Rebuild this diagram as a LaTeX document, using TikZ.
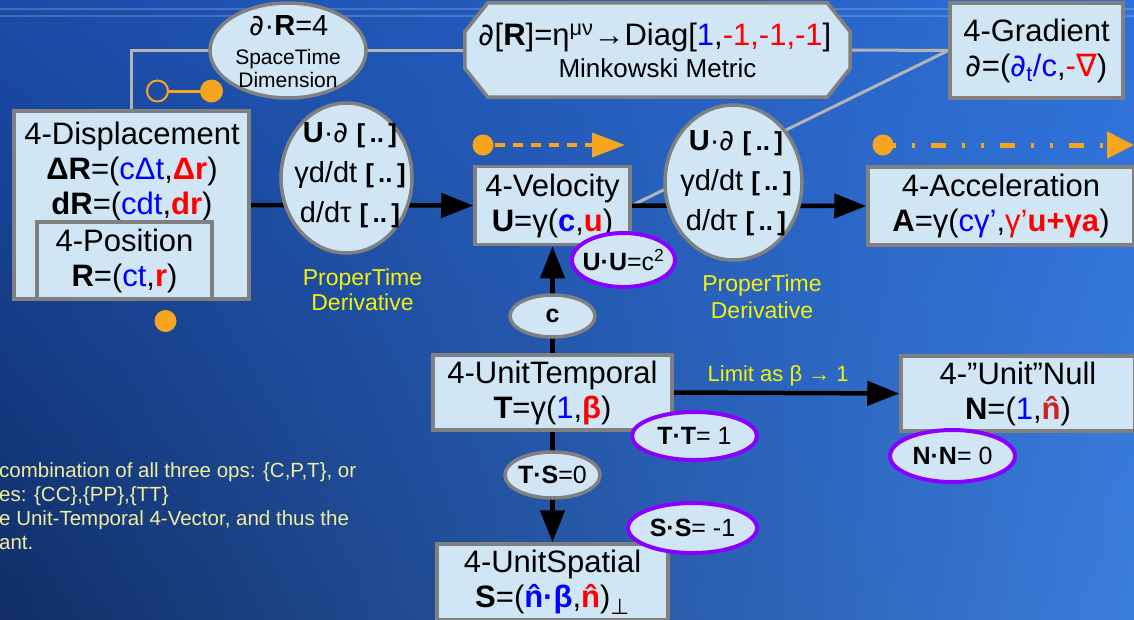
\documentclass[tikz,border=0pt]{standalone}
\usepackage{fontspec}
\setmainfont{Liberation Sans}
\newfontfamily\symfont{DejaVu Sans}
\usetikzlibrary{arrows.meta,shapes.geometric,shadings}
\definecolor{BGtl}{HTML}{1A4BA8}
\definecolor{BGtr}{HTML}{2E70D8}
\definecolor{BGbl}{HTML}{112E66}
\definecolor{BGbr}{HTML}{3B7DDC}
\definecolor{BoxFill}{HTML}{D0E6F5}
\definecolor{BoxLine}{HTML}{808080}
\definecolor{GreyWire}{HTML}{B4B4B4}
\definecolor{Purp}{HTML}{8A00FF}
\definecolor{Orng}{HTML}{F7A51F}
\definecolor{Yel}{HTML}{F2F20C}
\definecolor{PaleYel}{HTML}{F0EDA0}
\definecolor{VBlue}{HTML}{0000FF}
\definecolor{VRed}{HTML}{FF0000}
\definecolor{NRed}{HTML}{CC2222}
\newcommand{\fsmain}{\fontsize{31}{35}\selectfont}
\newcommand{\dpart}{{\symfont ∂}}
\newcommand{\dnabla}{{\symfont ∇}}
\newcommand{\dperp}{{\symfont ⊥}}
\newcommand{\nhat}{\ooalign{n\cr\hidewidth ˆ\hidewidth\cr}}
\newcommand{\opbr}{{\bfseries\fontsize{26}{26}\selectfont[\,..\,]}}
\pgfdeclarelayer{back}
\pgfdeclarelayer{wires}
\pgfsetlayers{back,wires,main}

\begin{document}
\begin{tikzpicture}[x=1pt,y=-1pt,
  vecbox/.style={draw=BoxLine,fill=BoxFill,line width=3.5pt,inner sep=0pt,align=center,font=\fsmain},
  opell/.style={ellipse,draw=BoxLine,fill=BoxFill,line width=3.5pt,inner sep=0pt},
  dotell/.style={ellipse,draw=Purp,fill=BoxFill,line width=4pt,inner sep=0pt},
  optext/.style={inner sep=0pt,align=center,font=\fontsize{29}{40}\selectfont},
  smalltext/.style={inner sep=0pt,font=\fontsize{25}{25}\selectfont},
  ylabel/.style={text=Yel,align=center,inner sep=0pt,font=\fontsize{23}{25}\selectfont},
  wire/.style={line width=4.5pt,black},
  bigtip/.style={-{Triangle[length=32pt,width=24pt]}},
  greywire/.style={GreyWire,line width=3pt},
]
\path[use as bounding box] (0,0) rectangle (1134,619);
\clip (0,0) rectangle (1134,619);
\begin{pgfonlayer}{back}
\shade[upper left=BGtl,upper right=BGtr,lower left=BGbl,lower right=BGbr] (0,0) rectangle (1134,619);
\draw[white,opacity=.18,line width=1.5pt] (0,9) -- (1134,9);
\draw[white,opacity=.18,line width=1.5pt] (0,16) -- (1134,16);
\end{pgfonlayer}

% top row
\node[opell,minimum width=156pt,minimum height=95pt] (dimE) at (288,50.5) {};
\node[inner sep=0pt,font=\fontsize{29}{29}\selectfont] (dimT1) at (289,26) {\dpart·\textbf{R}=4};
\node[inner sep=0pt,align=center,font=\fontsize{21}{23}\selectfont] (dimT2) at (288,68.5) {SpaceTime\\Dimension};

\node[inner sep=0pt,minimum width=385pt,minimum height=94pt] (mink) at (657.5,50) {};
\filldraw[draw=BoxLine,fill=BoxFill,line width=3.5pt]
  ([xshift=23pt]mink.north west) -- ([xshift=-23pt]mink.north east)
  -- ([yshift=-29pt]mink.north east) -- ([yshift=29pt]mink.south east)
  -- ([xshift=-23pt]mink.south east) -- ([xshift=23pt]mink.south west)
  -- ([yshift=29pt]mink.south west) -- ([yshift=-29pt]mink.north west) -- cycle;
\node[inner sep=0pt,font=\fsmain] (minkT1) at (655,37) {\dpart[\textbf{R}]=η\textsuperscript{μν}→Diag[\textcolor{VBlue}{1},\textcolor{VRed}{-1,-1,-1}]};
\node[inner sep=0pt,font=\fontsize{26}{26}\selectfont] (minkT2) at (657.5,68) {Minkowski Metric};

\node[vecbox,minimum width=173pt,minimum height=95pt] (grad) at (1036.5,50.5) {4-Gradient\\\dpart=(\textcolor{VBlue}{\dpart\textsubscript{t}/c},\textcolor{VRed}{-\dnabla})};

% middle row
\node[vecbox,minimum width=235pt,minimum height=188pt] (disp) at (131.5,205) {};
\node[inner sep=0pt,align=center,font=\fsmain] (dispT) at (132,171) {4-Displacement\\\textbf{ΔR}=(\textcolor{VBlue}{cΔt},\textcolor{VRed}{\textbf{Δr}})\\\textbf{dR}=(\textcolor{VBlue}{cdt},\textcolor{VRed}{\textbf{dr}})};
\node[vecbox,minimum width=175pt,minimum height=77pt] (pos) at (124.5,260.5) {4-Position\\\textbf{R}=(\textcolor{VBlue}{ct},\textcolor{VRed}{\textbf{r}})};

\node[opell,minimum width=131pt,minimum height=150pt] (op1) at (346.5,178) {};
\node[optext] (op1T) at (350,175) {\textbf{U}·\dpart\ \opbr\\γd/dt \opbr\\d/dτ \opbr};
\node[ylabel] (op1L) at (362.5,290) {ProperTime\\Derivative};

\node[vecbox,minimum width=155pt,minimum height=78pt] (vel) at (552.5,205.5) {4-Velocity\\\textbf{U}=γ(\textcolor{VBlue}{\textbf{c}},\textcolor{VRed}{\textbf{u}})};

\node[opell,minimum width=137pt,minimum height=155pt] (op2) at (733.5,182.5) {};
\node[optext] (op2T) at (736,183) {\textbf{U}·\dpart\ \opbr\\γd/dt \opbr\\d/dτ \opbr};
\node[ylabel,font=\fontsize{23}{27}\selectfont] (op2L) at (762,296.5) {ProperTime\\Derivative};

\node[vecbox,minimum width=266pt,minimum height=78pt] (acc) at (1001,206) {4-Acceleration\\\textbf{A}=γ(\textcolor{VBlue}{cγ’},\textcolor{VRed}{γ’\textbf{u+γa}})};

% lower part
\node[vecbox,minimum width=239pt,minimum height=75pt] (tem) at (552.5,392.5) {4-UnitTemporal\\\textbf{T}=γ(\textcolor{VBlue}{1},\textcolor{VRed}{\textbf{β}})};
\node[vecbox,minimum width=231pt,minimum height=76pt] (spa) at (552.5,582) {4-UnitSpatial\\\textbf{S}=(\textcolor{VBlue}{\textbf{\nhat·β}},\textcolor{VRed}{\textbf{\nhat}})\textsubscript{\dperp}};
\node[vecbox,minimum width=234pt,minimum height=75pt] (null) at (1018,393.5) {4-”Unit”Null\\\textbf{N}=(\textcolor{VBlue}{1},\textcolor{NRed}{\textbf{\nhat}})};

\node[opell,minimum width=85pt,minimum height=42pt] (cE) at (552.5,316) {};
\node[smalltext] (cT) at (cE) {\textbf{c}};
\node[opell,minimum width=95pt,minimum height=46pt] (tsE) at (552.5,475) {};
\node[smalltext] (tsT) at (tsE) {\textbf{T·S}=0};

\node[dotell,minimum width=103pt,minimum height=54pt] (uuE) at (623.5,260) {};
\node[smalltext] (uuT) at (uuE) {\textbf{U·U}=c\textsuperscript{2}};
\node[dotell,minimum width=125pt,minimum height=48pt] (ttE) at (694.5,436) {};
\node[smalltext] (ttT) at (ttE) {\textbf{T·T}= 1};
\node[dotell,minimum width=129pt,minimum height=50pt] (ssE) at (692.5,528) {};
\node[smalltext] (ssT) at (ssE) {\textbf{S·S}= -1};
\node[dotell,minimum width=125pt,minimum height=52pt] (nnE) at (952.5,456) {};
\node[smalltext] (nnT) at (nnE) {\textbf{N·N}= 0};

\node[anchor=west,align=left,inner sep=0pt,text=PaleYel,font=\fontsize{20.5}{24}\selectfont] (noteT) at (-1,506) {combination of all three ops: \{C,P,T\}, or\\es: \{CC\},\{PP\},\{TT\}\\e Unit-Temporal 4-Vector, and thus the\\ant.};

% orange markers
\coordinate (ringA) at (157.5,91);
\coordinate (dotA) at (211.5,91);
\coordinate (dotB) at (165.5,321);
\draw[Orng,line width=3pt] ([xshift=10pt]ringA) -- (dotA);
\draw[Orng,line width=2pt] (ringA) circle[radius=10.5pt];
\fill[Orng] (dotA) circle[radius=11.5pt];
\fill[Orng] (dotB) circle[radius=11pt];

\coordinate (dashA) at (483,145);
\coordinate (dashB) at (625,145);
\fill[Orng] (dashA) circle[radius=10.5pt];
\draw[Orng,line width=4pt,dash pattern=on 10pt off 8pt,dash phase=6pt,-{Triangle[length=33pt,width=24pt]}] (dashA) -- (dashB);

\coordinate (ddA) at (883,145);
\coordinate (ddB) at (1134,145);
\fill[Orng] (ddA) circle[radius=10.5pt];
\draw[Orng,line width=5pt,dash pattern=on 3pt off 16pt on 15pt off 16pt on 3pt off 16pt,dash phase=40pt,-{Triangle[length=27pt,width=26pt]}] (ddA) -- (ddB);

% connectors
\begin{pgfonlayer}{wires}
\draw[greywire] (disp.north) |- (mink.west);
\draw[greywire] (mink.east) -- (grad.west);
\draw[greywire] (vel.east) -- (grad.west);
\draw[wire,bigtip] (disp.east) -- (vel.west);
\draw[wire,bigtip] (vel.east) -- (acc.west);
\draw[wire,bigtip] (tem.north) -- (vel.south);
\draw[wire,bigtip] (tem.south) -- (spa.north);
\draw[wire,bigtip] (tem.east) -- node[pos=.463,anchor=south,yshift=5pt,ylabel,font=\fontsize{22}{24}\selectfont] (limT) {Limit as β → 1} (null.west);
\end{pgfonlayer}
\end{tikzpicture}
\end{document}
